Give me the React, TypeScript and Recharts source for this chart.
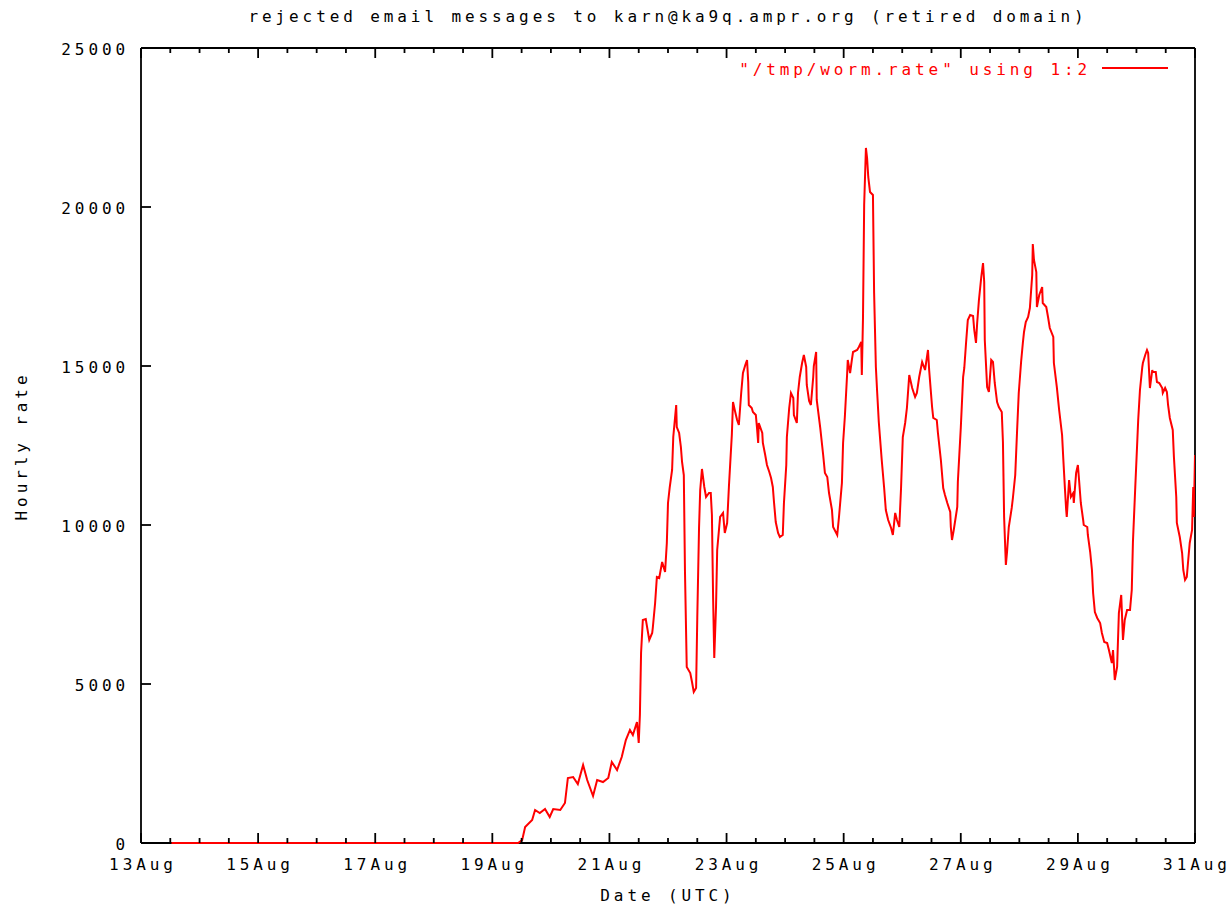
import React from "react";
import { LineChart, Line, XAxis, YAxis, Legend } from "recharts";

// Day of August (fractional, UTC)
const days: number[] = [
  13.52, 19.44, 19.51, 19.56, 19.68, 19.73, 19.81, 19.9, 19.98, 20.04, 20.16, 20.24, 20.29, 20.38, 20.46, 20.55,
  20.62, 20.72, 20.79, 20.89, 20.98, 21.04, 21.13, 21.21, 21.28, 21.35, 21.4, 21.47, 21.5, 21.52, 21.54, 21.57,
  21.62, 21.68, 21.73, 21.74, 21.78, 21.81, 21.85, 21.9, 21.95, 21.98, 22.0, 22.03, 22.07, 22.09, 22.14, 22.15,
  22.19, 22.22, 22.24, 22.27, 22.29, 22.32, 22.38, 22.41, 22.44, 22.48, 22.5, 22.53, 22.55, 22.58, 22.62, 22.65,
  22.7, 22.73, 22.75, 22.77, 22.79, 22.82, 22.84, 22.89, 22.94, 22.97, 23.01, 23.04, 23.09, 23.11, 23.14, 23.18,
  23.21, 23.25, 23.28, 23.32, 23.35, 23.37, 23.38, 23.43, 23.45, 23.5, 23.52, 23.54, 23.55, 23.61, 23.62, 23.66,
  23.69, 23.73, 23.76, 23.79, 23.81, 23.84, 23.88, 23.91, 23.96, 23.98, 24.02, 24.03, 24.07, 24.1, 24.14, 24.15,
  24.2, 24.22, 24.25, 24.29, 24.32, 24.36, 24.37, 24.41, 24.44, 24.48, 24.49, 24.53, 24.54, 24.6, 24.65, 24.68,
  24.72, 24.75, 24.8, 24.82, 24.89, 24.92, 24.97, 24.99, 25.02, 25.06, 25.07, 25.11, 25.14, 25.16, 25.23, 25.26,
  25.3, 25.31, 25.33, 25.35, 25.38, 25.4, 25.42, 25.45, 25.5, 25.52, 25.55, 25.57, 25.6, 25.65, 25.69, 25.72,
  25.76, 25.81, 25.84, 25.88, 25.91, 25.95, 25.98, 26.01, 26.05, 26.08, 26.12, 26.17, 26.22, 26.25, 26.29, 26.34,
  26.39, 26.44, 26.46, 26.51, 26.53, 26.59, 26.61, 26.66, 26.7, 26.73, 26.77, 26.82, 26.83, 26.85, 26.88, 26.94,
  26.95, 27.0, 27.04, 27.06, 27.09, 27.12, 27.16, 27.21, 27.23, 27.26, 27.28, 27.31, 27.35, 27.38, 27.4, 27.41,
  27.45, 27.48, 27.52, 27.55, 27.58, 27.62, 27.65, 27.7, 27.72, 27.74, 27.77, 27.79, 27.82, 27.87, 27.89, 27.93,
  27.96, 27.99, 28.03, 28.06, 28.08, 28.11, 28.15, 28.18, 28.22, 28.23, 28.25, 28.29, 28.3, 28.34, 28.39, 28.4,
  28.46, 28.49, 28.52, 28.58, 28.59, 28.64, 28.68, 28.73, 28.75, 28.78, 28.8, 28.81, 28.85, 28.88, 28.92, 28.93,
  28.97, 29.0, 29.02, 29.05, 29.09, 29.1, 29.16, 29.17, 29.21, 29.24, 29.26, 29.29, 29.33, 29.38, 29.41, 29.45,
  29.5, 29.53, 29.58, 29.6, 29.63, 29.67, 29.7, 29.74, 29.77, 29.8, 29.84, 29.89, 29.92, 29.94, 29.98, 30.01,
  30.03, 30.06, 30.1, 30.11, 30.15, 30.18, 30.2, 30.23, 30.27, 30.28, 30.33, 30.35, 30.39, 30.44, 30.45, 30.49,
  30.52, 30.54, 30.57, 30.62, 30.64, 30.68, 30.69, 30.74, 30.78, 30.8, 30.83, 30.86, 30.88, 30.91, 30.95, 30.97,
  30.98, 31.0,
];

// Hourly rate of rejected messages
const rates: number[] = [
  0, 0, 94, 503, 723, 1038, 943, 1069, 818, 1069, 1038, 1258, 2044, 2076, 1855, 2453,
  1981, 1478, 1981, 1918, 2044, 2547, 2296, 2704, 3239, 3554, 3396, 3805, 3145, 4025, 5975, 7013,
  7044, 6384, 6604, 6761, 7547, 8365, 8333, 8837, 8522, 9434, 10692, 11195, 11730, 12767, 13774, 13082,
  12893, 12453, 11981, 11572, 8522, 5535, 5346, 5063, 4748, 4874, 7076, 9906, 11101, 11761, 11195, 10881,
  11006, 11006, 10315, 7736, 5818, 7421, 9214, 10252, 10378, 9749, 10063, 11195, 12830, 13868, 13617, 13302,
  13145, 14151, 14780, 15032, 15189, 14497, 13774, 13679, 13554, 13459, 13051, 12579, 13208, 12893, 12579, 12201,
  11887, 11667, 11478, 11195, 10723, 10094, 9749, 9623, 9686, 10692, 11887, 12767, 13679, 14151, 13994, 13459,
  13208, 14151, 14654, 15094, 15346, 14969, 14403, 13899, 13774, 14654, 15000, 15440, 13931, 13051, 12201, 11635,
  11510, 11006, 10472, 9937, 9686, 10252, 11321, 12579, 13396, 14780, 15189, 14780, 15189, 15440, 15503, 15598,
  15755, 14717, 16510, 20063, 21856, 21541, 20944, 20472, 20378, 17296, 14969, 14246, 13239, 12044, 11195, 10472,
  10157, 9906, 9686, 10378, 10157, 9937, 11164, 12767, 13208, 13679, 14717, 14308, 14025, 14151, 14654, 15126,
  14874, 15503, 14874, 13711, 13365, 13302, 12893, 12044, 11164, 10944, 10692, 10409, 9937, 9528, 9843, 10566,
  11352, 13051, 14654, 14937, 15724, 16447, 16604, 16573, 16132, 15724, 16352, 17076, 17799, 18239, 17642, 15818,
  14340, 14183, 15189, 15126, 14466, 13868, 13711, 13554, 12610, 10252, 8742, 9151, 9937, 10535, 10849, 11572,
  12893, 14151, 15126, 15724, 16069, 16384, 16541, 16824, 17862, 18837, 18334, 17956, 16856, 17233, 17485, 16981,
  16856, 16541, 16195, 15912, 15094, 14340, 13617, 12830, 12107, 11101, 10472, 10252, 11415, 10881, 11006, 10692,
  11635, 11887, 11415, 10692, 10157, 10000, 9937, 9686, 9151, 8585, 7862, 7264, 7076, 6918, 6604, 6321,
  6289, 6069, 5660, 6069, 5126, 5535, 7233, 7799, 6384, 7013, 7327, 7327, 7956, 9466, 11195, 12453,
  13302, 14246, 14969, 15094, 15346, 15503, 15409, 14308, 14874, 14811, 14811, 14497, 14466, 14308, 14151, 14308,
  14183, 13774, 13365, 12987, 12139, 10881, 10063, 9623, 9120, 8585, 8271, 8365, 8805, 9434, 9843, 11195,
  10252, 12200,
];

// Axis ticks: x every half day (labels on odd days), y every 5000
const xTicks: number[] = [
  13, 13.5, 14, 14.5, 15, 15.5, 16, 16.5, 17, 17.5, 18, 18.5, 19, 19.5, 20, 20.5, 21, 21.5,
  22, 22.5, 23, 23.5, 24, 24.5, 25, 25.5, 26, 26.5, 27, 27.5, 28, 28.5, 29, 29.5, 30, 30.5, 31,
];
const xLabelDays: number[] = [13, 15, 17, 19, 21, 23, 25, 27, 29, 31];
const yTicks: number[] = [0, 5000, 10000, 15000, 20000, 25000];

const titleText = "rejected email messages to karn@ka9q.ampr.org (retired domain)";
const xTitle = "Date (UTC)";
const yTitle = "Hourly rate";
const seriesName = '"/tmp/worm.rate" using 1:2';

const data = days.map((d, i) => ({ day: d, rate: rates[i] }));

const FONT = "'DejaVu Sans Mono', 'Liberation Mono', monospace";
const LS = 3.9;
const AXIS_W = 1.8;

const textStyle: React.CSSProperties = {
  fontFamily: FONT,
  fontSize: 16,
  letterSpacing: LS,
  fill: "#000",
};

const BottomTick = (props: any) => {
  const { x, y, payload } = props;
  const v = payload.value as number;
  const major = xLabelDays.includes(v);
  return (
    <g>
      <line x1={x} y1={y} x2={x} y2={y - (major ? 10 : 5)} stroke="#000" strokeWidth={AXIS_W} />
      {major && (
        <text x={x + LS / 2} y={y + 21} textAnchor="middle" dominantBaseline="central" style={textStyle}>
          {`${v}Aug`}
        </text>
      )}
    </g>
  );
};

const TopTick = (props: any) => {
  const { x, y, payload } = props;
  const major = xLabelDays.includes(payload.value as number);
  return <line x1={x} y1={y} x2={x} y2={y + (major ? 10 : 5)} stroke="#000" strokeWidth={AXIS_W} />;
};

const LeftTick = (props: any) => {
  const { x, y, payload } = props;
  return (
    <g>
      <line x1={x} y1={y} x2={x + 10} y2={y} stroke="#000" strokeWidth={AXIS_W} />
      <text x={x - 12} y={y + 1} textAnchor="end" dominantBaseline="central" style={textStyle}>
        {String(payload.value)}
      </text>
    </g>
  );
};

const RightTick = (props: any) => {
  const { x, y } = props;
  return <line x1={x} y1={y} x2={x - 10} y2={y} stroke="#000" strokeWidth={AXIS_W} />;
};

const LegendContent = () => (
  <div
    style={{
      display: "flex",
      justifyContent: "flex-end",
      alignItems: "center",
      height: 26,
      width: "100%",
    }}
  >
    <span
      style={{
        fontFamily: FONT,
        fontSize: 16,
        letterSpacing: LS,
        color: "#ff0000",
        whiteSpace: "pre",
      }}
    >
      {seriesName}
    </span>
    <svg width={66} height={26} style={{ marginLeft: 11 }}>
      <line x1={0} y1={12} x2={66} y2={12} stroke="#ff0000" strokeWidth={2} />
    </svg>
  </div>
);

const overlayText: React.CSSProperties = {
  position: "absolute",
  fontFamily: FONT,
  fontSize: 16,
  letterSpacing: LS,
  color: "#000",
  whiteSpace: "pre",
  lineHeight: "20px",
};

export default function App() {
  return (
    <div style={{ position: "absolute", left: 0, top: 0, width: 1231, height: 905, background: "#fff" }}>
      <LineChart
        width={1231}
        height={905}
        data={data}
        margin={{ top: 47, right: 35, bottom: 32, left: 81 }}
      >
        <XAxis
          dataKey="day"
          type="number"
          domain={[13, 31]}
          ticks={xTicks}
          interval={0}
          allowDataOverflow
          height={30}
          tickSize={0}
          tickMargin={0}
          tickLine={false}
          tick={BottomTick}
          axisLine={{ stroke: "#000", strokeWidth: AXIS_W }}
        />
        <XAxis
          xAxisId="top"
          orientation="top"
          dataKey="day"
          type="number"
          domain={[13, 31]}
          ticks={xTicks}
          interval={0}
          allowDataOverflow
          height={1}
          tickSize={0}
          tickMargin={0}
          tickLine={false}
          tick={TopTick}
          axisLine={{ stroke: "#000", strokeWidth: AXIS_W }}
        />
        <YAxis
          type="number"
          domain={[0, 25000]}
          ticks={yTicks}
          interval={0}
          width={60}
          tickSize={0}
          tickMargin={0}
          tickLine={false}
          tick={LeftTick}
          axisLine={{ stroke: "#000", strokeWidth: AXIS_W }}
        />
        <YAxis
          yAxisId="right"
          orientation="right"
          type="number"
          domain={[0, 25000]}
          ticks={yTicks}
          interval={0}
          width={1}
          tickSize={0}
          tickMargin={0}
          tickLine={false}
          tick={RightTick}
          axisLine={{ stroke: "#000", strokeWidth: AXIS_W }}
        />
        <Legend
          layout="vertical"
          align="center"
          verticalAlign="middle"
          content={LegendContent}
          wrapperStyle={{ left: 666, top: 56, width: 502, height: 26 }}
        />
        <Line
          type="linear"
          dataKey="rate"
          name={seriesName}
          stroke="#ff0000"
          strokeWidth={2}
          dot={false}
          activeDot={false}
          isAnimationActive={false}
          {...({ zIndex: 1000 } as any)}
        />
      </LineChart>
      <div style={{ ...overlayText, left: 141, width: 1054, top: 7, textAlign: "center" }}>{titleText}</div>
      <div style={{ ...overlayText, left: 141, width: 1054, top: 886, textAlign: "center" }}>{xTitle}</div>
      <div
        style={{
          ...overlayText,
          left: 22,
          top: 446,
          transform: "translate(-50%, -50%) rotate(-90deg)",
        }}
      >
        {yTitle}
      </div>
    </div>
  );
}
